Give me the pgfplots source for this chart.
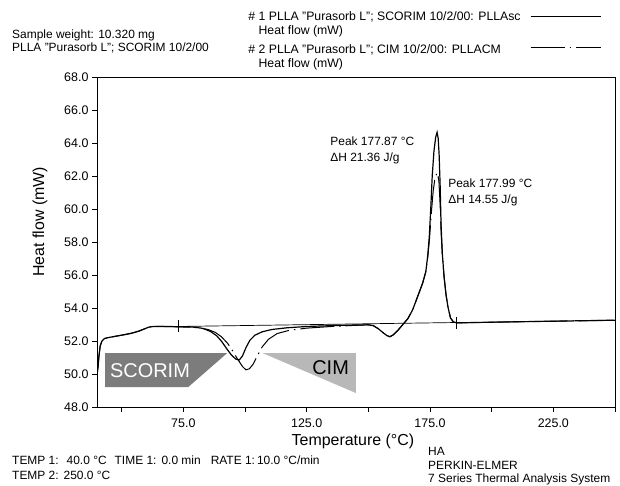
\documentclass[border=0pt]{standalone}
\usepackage{fontspec}
\setmainfont{Liberation Sans}
\usepackage{pgfplots}
\pgfplotsset{compat=1.18}

\definecolor{scorimgray}{HTML}{7C7C7C}
\definecolor{cimgray}{HTML}{B8B8B8}
\newcommand{\rowstrut}{\rule[-3bp]{0pt}{12bp}}
\newcommand{\tallstrut}{\rule[-3bp]{0pt}{16bp}}

\begin{document}
\begin{tikzpicture}[x=1bp,y=1bp]
\useasboundingbox (0bp,0bp) rectangle (620bp,486bp);
\begin{axis}[
  at={(97bp,79bp)}, anchor=south west,
  scale only axis, width=518bp, height=330bp,
  xmin=40, xmax=250, ymin=48, ymax=68,
  xtick={75,125,175,225}, minor xtick={50,100,150,200,250},
  ytick={48,50,...,68},
  tick align=outside, tick pos=left,
  major tick length=5bp, minor tick length=5bp,
  every tick/.style={black, line width=0.6pt},
  axis line style={black, line width=0.6pt},
  tick label style={font=\fontsize{12.5}{14}\selectfont},
  xticklabel style={yshift=-3bp},
  /pgf/number format/fixed,
  /pgf/number format/fixed zerofill,
  /pgf/number format/precision=1,
  /pgf/number format/assume math mode=true,
  xlabel={Temperature (°C)},
  xlabel style={font=\fontsize{16}{18}\selectfont, at={(axis description cs:0.494,-0.103)}, anchor=center},
  ylabel={Heat flow (mW)},
  ylabel style={font=\fontsize{16}{18}\selectfont, at={(axis description cs:-0.110,0.561)}, anchor=center},
  legend plot pos=right,
  legend cell align=left,
  legend image code/.code={\draw[#1] (0bp,0bp) -- (70bp,0bp);},
  legend style={at={(0.289,1.2045)}, anchor=north west, draw=none, fill=none,
    font=\fontsize{12.3}{14}\selectfont, inner sep=0pt, row sep=1bp, column sep=8bp,
    nodes={inner sep=1.5bp}},
]

% sample labels behind the traces
\addplot[fill=scorimgray, draw=none, forget plot]
  coordinates {(43.25,51.27) (92.8,51.27) (77.0,49.21) (43.25,49.21)} -- cycle;
\addplot[fill=cimgray, draw=none, forget plot]
  coordinates {(107.1,51.27) (144.9,51.27) (144.9,48.85)} -- cycle;
\node[font=\fontsize{20}{22}\selectfont, text=white] at (axis cs:61.5,50.18) {SCORIM};
\node[font=\fontsize{20}{22}\selectfont, text=black] at (axis cs:134.7,50.36) {CIM};

% integration baseline with its limits
\addplot[black, line width=0.7pt, mark=|, mark size=6bp, mark options={line width=0.8pt}, forget plot]
  coordinates {(72.9,52.88) (185.5,53.12)};

% SCORIM sample
\addplot[black, line width=1.2pt] coordinates {
  (40.0,49.95) (40.4,50.4) (40.8,51.1) (41.3,51.7) (42.0,52.0) (43.0,52.15)
  (45,52.22) (48,52.3) (51,52.38) (54,52.47) (57,52.6) (59,52.72) (61,52.84)
  (63,52.88) (67,52.88) (72,52.87) (77,52.86) (80,52.83) (83,52.76) (86,52.58)
  (88.5,52.32) (90.5,51.98) (92.5,51.55) (94.5,51.15) (96.3,50.9) (97.7,50.85)
  (99,51.1) (100.4,51.6) (102,52.05) (104,52.35) (107,52.56) (111,52.7)
  (117,52.8) (125,52.88) (135,52.93) (145,52.97) (150,52.98) (152,52.93)
  (154,52.75) (156,52.5) (157.5,52.33) (158.7,52.26) (160,52.36) (162,52.65)
  (164,53.0) (166,53.35) (168,53.9) (170,54.7) (172,55.5) (173.3,56.2)
  (174.1,57.2) (174.7,58.3) (175.3,60.0) (175.9,62.0) (176.6,63.5) (177.3,64.35)
  (177.87,64.65) (178.3,64.3) (178.7,63.3) (179.1,61.5) (179.5,59.0) (180.0,57.3)
  (180.7,55.9) (181.5,54.8) (182.3,54.05) (183.3,53.4) (184.5,53.15) (186,53.1)
  (200,53.14) (225,53.2) (250,53.26)
};
\addlegendentry{\rowstrut\# 1 PLLA "Purasorb L"; SCORIM 10/2/00: PLLAsc}
\addlegendimage{empty legend}
\addlegendentry{\rowstrut\phantom{\# }Heat flow (mW)}

% CIM sample
\addplot[black, line width=1.0pt, dash pattern=on 34bp off 5bp on 1.5bp off 5bp] coordinates {
  (40.0,49.95) (40.4,50.4) (40.8,51.1) (41.3,51.7) (42.0,52.0) (43.0,52.15)
  (45,52.22) (48,52.3) (51,52.38) (54,52.47) (57,52.6) (59,52.72) (61,52.84)
  (63,52.88) (67,52.88) (72,52.86) (77,52.84) (81,52.8) (85,52.7) (88,52.52)
  (90.5,52.25) (93,51.85) (95,51.4) (97,50.9) (99,50.45) (100.4,50.25)
  (101.8,50.32) (103.3,50.6) (105,51.1) (107,51.65) (109.5,52.1) (113,52.45)
  (118,52.65) (125,52.78) (135,52.88) (145,52.95) (150,52.98) (152,52.93)
  (154,52.75) (156,52.5) (157.5,52.33) (158.7,52.26) (160,52.36) (162,52.65)
  (164,53.0) (166,53.35) (168,53.9) (170,54.7) (172,55.5) (173.3,56.2)
  (174.1,57.1) (174.8,58.2) (175.5,59.7) (176.3,61.1) (177.1,61.95) (177.99,62.2)
  (178.6,61.7) (179.1,60.3) (179.5,58.6) (180.0,57.2) (180.7,55.9) (181.5,54.8)
  (182.3,54.05) (183.3,53.4) (184.5,53.15) (186,53.1) (200,53.14) (225,53.2)
  (250,53.26)
};
\addlegendentry{\tallstrut\# 2 PLLA "Purasorb L"; CIM 10/2/00: PLLACM}
\addlegendimage{empty legend}
\addlegendentry{\rowstrut\phantom{\# }Heat flow (mW)}

% peak annotations
\node[anchor=west, align=left, font=\fontsize{12}{16.5}\selectfont] at (axis cs:133.2,63.55) {Peak 177.87 °C\\ΔH 21.36 J/g};
\node[anchor=west, align=left, font=\fontsize{12}{15.5}\selectfont] at (axis cs:181.0,61.0) {Peak 177.99 °C\\ΔH 14.55 J/g};
\end{axis}

% header and footer texts
\begin{scope}[every node/.style={anchor=west, inner sep=0pt, font=\fontsize{12}{14}\selectfont}]
\node at (12bp,451bp) {Sample weight: 10.320 mg};
\node at (12bp,438bp) {PLLA "Purasorb L"; SCORIM 10/2/00};
\node at (12bp,26bp) {TEMP 1:\hspace{8bp}40.0 °C\hspace{8bp}TIME 1:\hspace{5bp}0.0 min\hspace{10bp}RATE 1:\hspace{2bp}10.0 °C/min};
\node at (12bp,11bp) {TEMP 2:\hspace{5bp}250.0 °C};
\node at (428bp,35bp) {HA};
\node at (428bp,20.5bp) {PERKIN-ELMER};
\node at (428bp,6.5bp) {7 Series Thermal Analysis System};
\end{scope}
\end{tikzpicture}
\end{document}
